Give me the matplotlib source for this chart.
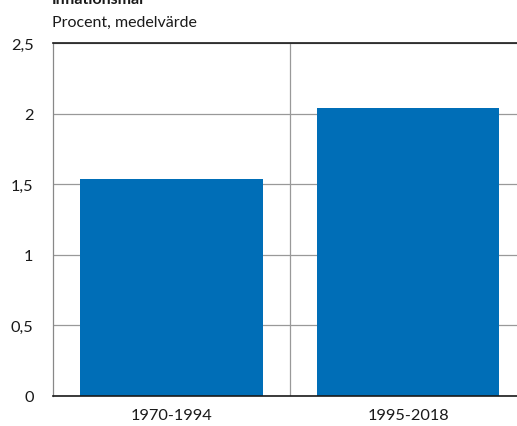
import matplotlib
matplotlib.use('Agg')
import matplotlib.pyplot as plt

plt.rcParams['font.family'] = ['Lato', 'DejaVu Sans']

# --- data: average inflation per period
periods = ['1970-1994', '1995-2018']
values = [1.54, 2.04]
y_ticks = [0, 0.5, 1, 1.5, 2, 2.5]
y_labels = ['0', '0,5', '1', '1,5', '2', '2,5']

W, H = 517, 427
fig = plt.figure(figsize=(W/100, H/100), dpi=100)

# axes run slightly past the right edge of the figure
left, right = 53/W, 526.5/W
bottom, top = (H-397)/H, (H-44)/H
ax = fig.add_axes((left, bottom, right-left, top-bottom))

ax.bar(range(len(periods)), values, width=0.77, color='#006EB7', zorder=3)

ax.set_xlim(-0.5, len(periods)-0.5)
ax.set_ylim(0, 2.5)

ax.set_yticks(y_ticks)
ax.set_yticklabels(y_labels)
ax.set_xticks(range(len(periods)))
ax.set_xticklabels(periods)
ax.tick_params(axis='both', length=0, labelsize=11.8, colors='#1a1a1a')
ax.tick_params(axis='y', pad=14)
ax.tick_params(axis='x', pad=9)

ax.yaxis.grid(True, color='#999999', lw=0.9, zorder=0)
ax.axvline(0.5, color='#999999', lw=0.9, zorder=0)

for side in ['top', 'bottom']:
    ax.spines[side].set_color('#1a1a1a')
    ax.spines[side].set_linewidth(1.2)
ax.spines['left'].set_color('#888888')
ax.spines['left'].set_linewidth(0.9)
ax.spines['right'].set_visible(False)
ax.spines['top'].set_zorder(4)
ax.spines['bottom'].set_zorder(4)

fig.text(52/W, 1 - 4/H, 'Inflationsmål', fontsize=11.5, fontweight='bold',
         va='baseline', ha='left', color='#1a1a1a')
fig.text(52/W, 1 - 27/H, 'Procent, medelvärde', fontsize=11.5,
         va='baseline', ha='left', color='#1a1a1a')

fig.savefig('out.png', dpi=100)
